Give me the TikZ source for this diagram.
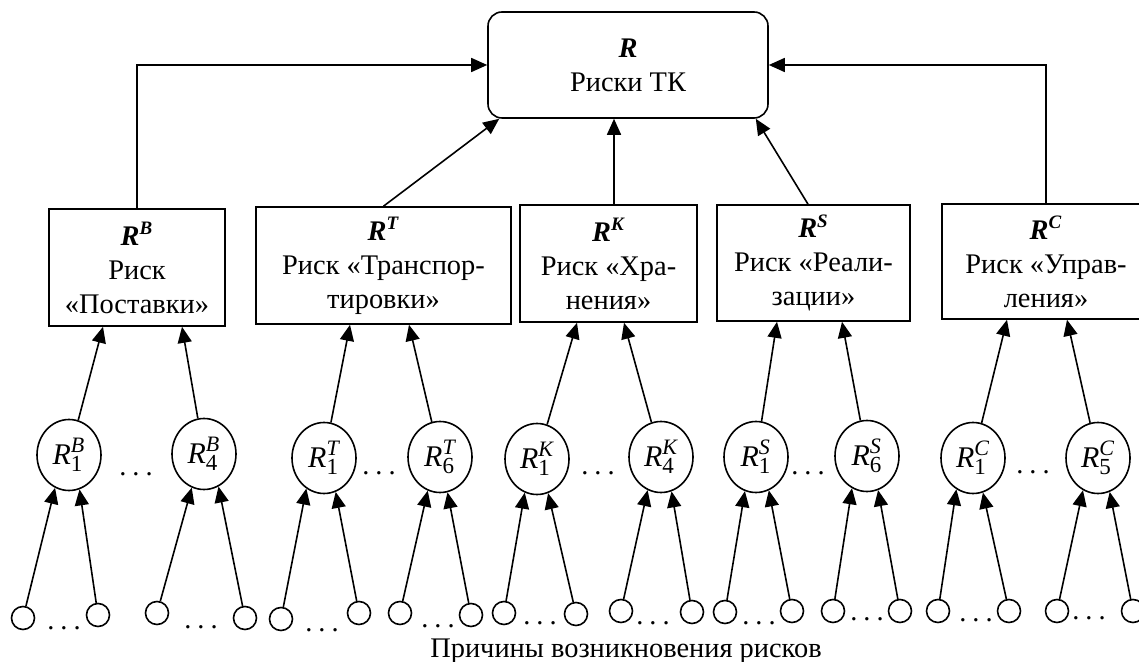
\documentclass[tikz,border=0pt]{standalone}
\usepackage{fontspec}
\setmainfont{Liberation Serif}
\usetikzlibrary{shapes.geometric,arrows.meta,calc}
\newcommand{\Rcirc}[2]{$\mbox{\fontsize{15}{16}\selectfont\itshape R}^{\mbox{\fontsize{11}{12}\selectfont\itshape #2}}_{\mbox{\fontsize{11.5}{12}\selectfont #1}}$}
\newcommand{\Rbox}[1]{$\mbox{\bfseries\itshape R}^{\mbox{\fontsize{9.5}{10}\selectfont\bfseries\itshape #1}}$}
\newcommand{\sdots}{.\hspace{3pt}.\hspace{3pt}.}
\begin{document}
\begin{tikzpicture}[x=0.5pt,y=-0.5pt,line width=0.8pt,
  font=\fontsize{14.2}{17}\selectfont,
  arr/.style={-{Triangle[length=8pt,width=7pt]}},
  riskbox/.style={draw,rectangle,align=center,inner sep=0pt,minimum height=58.5pt},
  rcirc/.style={draw,ellipse,inner sep=0pt,minimum width=32pt,minimum height=35.5pt},
  scirc/.style={draw,circle,inner sep=0pt,minimum size=11.5pt},
  dotsn/.style={inner sep=0pt}]
\useasboundingbox (0,0) rectangle (1139,662);
% top box
\node[draw,rectangle,rounded corners=7pt,align=center,minimum width=140pt,minimum height=53pt,inner sep=0pt] (R) at (628,65) {\textbf{\textit{R}}\\Риски ТК};
% risk boxes
\node[riskbox,minimum width=88pt] (B) at (137,267.5) {\Rbox{B}\\Риск\\«Поставки»};
\node[riskbox,minimum width=127.5pt] (T) at (383.5,265.5) {\Rbox{T}\\Риск «Транспор-\\тировки»};
\node[riskbox,minimum width=88.5pt] (K) at (608.5,263.5) {\Rbox{K}\\Риск «Хра-\\нения»};
\node[riskbox,minimum width=96.5pt,minimum height=58pt] (S) at (813.5,263) {\Rbox{S}\\Риск «Реали-\\зации»};
\node[riskbox,minimum width=104pt,minimum height=57.5pt] (C) at (1046,261.5) {\Rbox{C}\\Риск «Управ-\\ления»};
% arrows to top box
\draw[arr] (B.north) |- (R.west);
\draw[arr] (C.north) |- (R.east);
\draw[arr] (T.north) -- ($(R.south west)+(12,0)$);
\draw[arr] ($(K.north)+(5.5,0)$) -- ($(R.south)+(-14,0)$);
\draw[arr] ($(S.north)+(-5.5,0)$) -- ($(R.south east)+(-13,0)$);
% risk circles
\node[rcirc] (RB1) at (69,455) {\Rcirc{1}{B}};
\node[rcirc] (RB4) at (204,454) {\Rcirc{4}{B}};
\node[rcirc] (RT1) at (324,458) {\Rcirc{1}{T}};
\node[rcirc] (RT6) at (440,457) {\Rcirc{6}{T}};
\node[rcirc] (RK1) at (537,459) {\Rcirc{1}{K}};
\node[rcirc] (RK4) at (661,457) {\Rcirc{4}{K}};
\node[rcirc] (RS1) at (756,457) {\Rcirc{1}{S}};
\node[rcirc] (RS6) at (867,456) {\Rcirc{6}{S}};
\node[rcirc] (RC1) at (973,458) {\Rcirc{1}{C}};
\node[rcirc] (RC5) at (1098,458) {\Rcirc{5}{C}};
% dots between risk circles
\node[dotsn] (dB) at (136,474) {\sdots};
\node[dotsn] (dT) at (379,473) {\sdots};
\node[dotsn] (dK) at (598,473) {\sdots};
\node[dotsn] (dS) at (808,473) {\sdots};
\node[dotsn] (dC) at (1033,472) {\sdots};
% circle -> box arrows
\draw[arr] (RB1) -- ($(B.south)+(-34,0)$);
\draw[arr] (RB4) -- ($(B.south)+(45,0)$);
\draw[arr] (RT1) -- ($(T.south)+(-33.5,0)$);
\draw[arr] (RT6) -- ($(T.south)+(25.5,0)$);
\draw[arr] (RK1) -- ($(K.south)+(-31.5,0)$);
\draw[arr] (RK4) -- ($(K.south)+(15.5,0)$);
\draw[arr] (RS1) -- ($(S.south)+(-36.5,0)$);
\draw[arr] (RS6) -- ($(S.south)+(28.5,0)$);
\draw[arr] (RC1) -- ($(C.south)+(-39,0)$);
\draw[arr] (RC5) -- ($(C.south)+(21,0)$);
% small cause circles
\node[scirc] (c1) at (23,618) {};
\node[scirc] (c2) at (98,615) {};
\node[scirc] (c3) at (157,613) {};
\node[scirc] (c4) at (245,618) {};
\node[scirc] (c5) at (281,619) {};
\node[scirc] (c6) at (359,613) {};
\node[scirc] (c7) at (400,613) {};
\node[scirc] (c8) at (471,615) {};
\node[scirc] (c9) at (504,613) {};
\node[scirc] (c10) at (576,614) {};
\node[scirc] (c11) at (621,611) {};
\node[scirc] (c12) at (692,612) {};
\node[scirc] (c13) at (725,612) {};
\node[scirc] (c14) at (792,611) {};
\node[scirc] (c15) at (833,611) {};
\node[scirc] (c16) at (900,611) {};
\node[scirc] (c17) at (938,611) {};
\node[scirc] (c18) at (1009,611) {};
\node[scirc] (c19) at (1057,611) {};
\node[scirc] (c20) at (1133,611) {};
% dots between small circles
\node[dotsn] (d1) at (64,628) {\sdots};
\node[dotsn] (d2) at (201,627) {\sdots};
\node[dotsn] (d3) at (322,630) {\sdots};
\node[dotsn] (d4) at (438,626) {\sdots};
\node[dotsn] (d5) at (540,623) {\sdots};
\node[dotsn] (d6) at (653,623) {\sdots};
\node[dotsn] (d7) at (759,623) {\sdots};
\node[dotsn] (d8) at (867,619) {\sdots};
\node[dotsn] (d9) at (976,620) {\sdots};
\node[dotsn] (d10) at (1089,618) {\sdots};
% cause -> risk arrows
\draw[arr] (c1) -- (RB1.247.6);
\draw[arr] (c2) -- (RB1.287.9);
\draw[arr] (c3) -- (RB4.250);
\draw[arr] (c4) -- (RB4.294);
\draw[arr] (c5) -- (RT1.240.4);
\draw[arr] (c6) -- (RT1.289.4);
\draw[arr] (c7) -- (RT6.250.6);
\draw[arr] (c8) -- (RT6.282.2);
\draw[arr] (c9) -- (RK1.250.6);
\draw[arr] (c10) -- (RK1.288);
\draw[arr] (c11) -- (RK4.248.7);
\draw[arr] (c12) -- (RK4.287);
\draw[arr] (c13) -- (RS1.252);
\draw[arr] (c14) -- (RS1.291.3);
\draw[arr] (c15) -- (RS6.245.3);
\draw[arr] (c16) -- (RS6.288);
\draw[arr] (c17) -- (RC1.242.8);
\draw[arr] (c18) -- (RC1.286);
\draw[arr] (c19) -- (RC5.245.4);
\draw[arr] (c20) -- (RC5.289);
% caption
\node[anchor=base] (cap) at (626,657) {Причины возникновения рисков};
\end{tikzpicture}
\end{document}
